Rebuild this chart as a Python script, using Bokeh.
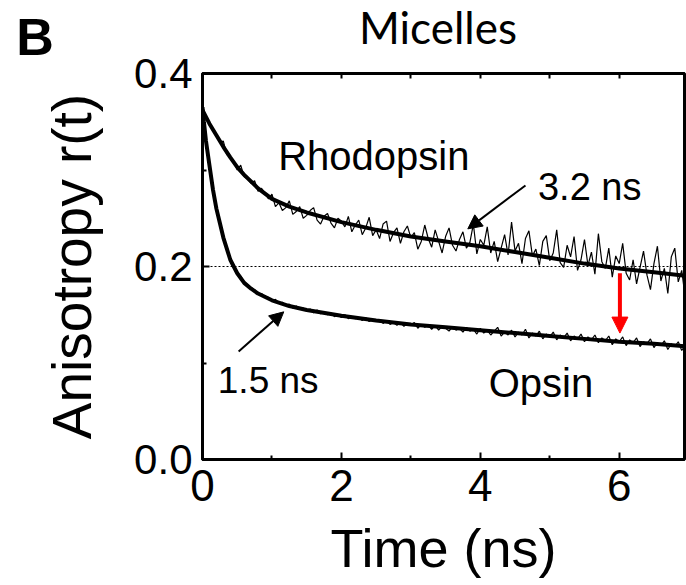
import numpy as np
from bokeh.plotting import figure
from bokeh.models import (LinearAxis, FixedTicker, Range1d, Span, Arrow,
                          NormalHead, Label, CustomJSTickFormatter)
from bokeh.embed import file_html
from bokeh.resources import INLINE

# ---------------- data ----------------
rho_data = [
    0.362, 0.354, 0.349, 0.341, 0.336, 0.329, 0.330, 0.316, 0.313, 0.309,
    0.300, 0.305, 0.293, 0.291, 0.286, 0.289, 0.278, 0.281, 0.276, 0.270,
    0.275,
    0.262, 0.266, 0.258, 0.261, 0.268, 0.254, 0.257, 0.262, 0.250, 0.253,
    0.258, 0.261, 0.248, 0.244, 0.252, 0.255, 0.245, 0.240, 0.250, 0.247,
    0.241, 0.252, 0.236, 0.243, 0.248, 0.233, 0.240, 0.251, 0.232, 0.238,
    0.229, 0.244, 0.247, 0.226, 0.235, 0.240, 0.224, 0.236, 0.242, 0.230,
    0.235, 0.218, 0.226, 0.243, 0.229, 0.220, 0.238, 0.226, 0.214, 0.231,
    0.240, 0.222, 0.216, 0.228, 0.236, 0.219, 0.225, 0.244, 0.213, 0.228,
    0.222, 0.241, 0.214, 0.226, 0.205, 0.219, 0.233, 0.212, 0.246, 0.216,
    0.224, 0.203, 0.229, 0.237, 0.211, 0.218, 0.201, 0.226, 0.232, 0.206,
    0.214, 0.238, 0.204, 0.199, 0.222, 0.210, 0.231, 0.196, 0.207, 0.228,
    0.201, 0.215, 0.192, 0.234, 0.205, 0.198, 0.219, 0.189, 0.211, 0.203,
    0.224, 0.193, 0.186, 0.207, 0.182, 0.199, 0.216, 0.191, 0.176, 0.203,
    0.221, 0.185, 0.198, 0.172, 0.210, 0.219, 0.184, 0.196, 0.168, 0.205,
]
ops_data = [
    0.365, 0.330, 0.306, 0.282, 0.262, 0.246, 0.232, 0.218, 0.208, 0.200,
    0.194, 0.190, 0.184, 0.181, 0.178, 0.176, 0.171, 0.172, 0.168, 0.168,
    0.164, 0.166, 0.162, 0.163, 0.160, 0.161, 0.157, 0.159, 0.156, 0.157,
    0.154, 0.156, 0.152, 0.155, 0.151, 0.152, 0.150, 0.152, 0.148, 0.150,
    0.147, 0.150, 0.146, 0.148, 0.146, 0.147, 0.144, 0.147, 0.143, 0.145,
    0.143, 0.145, 0.141, 0.144, 0.140, 0.142, 0.139, 0.142, 0.138, 0.141,
    0.139, 0.142, 0.136, 0.140, 0.137, 0.139, 0.135, 0.139, 0.134, 0.138,
    0.136, 0.133, 0.138, 0.134, 0.136, 0.132, 0.137, 0.133, 0.135, 0.130,
    0.136, 0.131, 0.134, 0.129, 0.133, 0.137, 0.128, 0.132, 0.129, 0.134,
    0.127, 0.132, 0.129, 0.135, 0.126, 0.131, 0.128, 0.133, 0.125, 0.130,
    0.127, 0.132, 0.124, 0.129, 0.126, 0.131, 0.123, 0.128, 0.125, 0.130,
    0.122, 0.127, 0.124, 0.129, 0.121, 0.126, 0.123, 0.128, 0.119, 0.125,
    0.122, 0.127, 0.118, 0.124, 0.121, 0.126, 0.117, 0.122, 0.120, 0.125,
    0.116, 0.121, 0.118, 0.123, 0.114, 0.120, 0.117, 0.122, 0.113, 0.118,
    0.116,
]
t_rho = np.linspace(0, 7, len(rho_data))
t_ops = np.linspace(0, 7, len(ops_data))

rho_fit_t = [0, 0.05, 0.1, 0.2, 0.3, 0.4, 0.5, 0.6, 0.8, 1.0, 1.25, 1.5, 2.0,
             2.5, 3.0, 3.5, 4.0, 4.5, 5.0, 5.5, 6.0, 6.5, 7.0]
rho_fit = [0.362, 0.355, 0.348, 0.336, 0.324, 0.313, 0.303, 0.295, 0.281,
           0.270, 0.262, 0.256, 0.246, 0.238, 0.231, 0.226, 0.221, 0.215,
           0.209, 0.203, 0.198, 0.194, 0.190]
ops_fit_t = [0, 0.02, 0.05, 0.1, 0.15, 0.2, 0.25, 0.3, 0.4, 0.5, 0.6, 0.7,
             0.8, 1.0, 1.25, 1.5, 2.0, 2.5, 3.0, 3.5, 4.0, 4.5, 5.0, 5.5,
             6.0, 6.5, 7.0]
ops_fit = [0.365, 0.350, 0.330, 0.305, 0.280, 0.260, 0.245, 0.230, 0.207,
           0.193, 0.183, 0.177, 0.172, 0.165, 0.159, 0.155, 0.149, 0.144,
           0.140, 0.137, 0.134, 0.131, 0.128, 0.125, 0.122, 0.120, 0.117]

x_ticks = [0, 2, 4, 6]
x_minor = [1, 3, 5]
top_ticks = [1, 2, 3, 4, 5, 6]
y_ticks = [0.0, 0.2, 0.4]
y_minor = [0.1, 0.3]
ref_level = 0.2

FONT = "Liberation Sans"

p = figure(width=686, height=585, output_backend="svg", toolbar_location=None,
           x_range=Range1d(0, 6.94), y_range=Range1d(0, 0.4),
           min_border_left=202, min_border_right=2, min_border_top=73,
           min_border_bottom=126, title=None)
p.xgrid.visible = False
p.ygrid.visible = False
p.outline_line_color = "black"
p.outline_line_width = 3
p.background_fill_color = "white"
p.border_fill_color = "white"


def style_axis(ax, ticks, minor, size="42px"):
    ax.ticker = FixedTicker(ticks=ticks, minor_ticks=minor)
    ax.axis_line_width = 3
    ax.axis_line_color = "black"
    ax.major_tick_in = 7
    ax.major_tick_out = 0
    ax.minor_tick_in = 4
    ax.minor_tick_out = 0
    ax.major_tick_line_width = 2
    ax.minor_tick_line_width = 2
    ax.major_label_text_font = FONT
    ax.major_label_text_font_size = size
    ax.major_label_text_color = "black"


xa = p.xaxis[0]
style_axis(xa, x_ticks, x_minor, size="44px")
xa.major_label_standoff = 10
xa.axis_label = "Time (ns)"
xa.axis_label_text_font = FONT
xa.axis_label_text_font_size = "54px"
xa.axis_label_text_font_style = "normal"
xa.axis_label_text_color = "black"
xa.axis_label_standoff = 14

ya = p.yaxis[0]
style_axis(ya, y_ticks, y_minor, size="42px")
ya.major_label_standoff = 10
ya.formatter = CustomJSTickFormatter(code="return tick.toFixed(1);")
ya.axis_label = "Anisotropy r(t)"
ya.axis_label_text_font = FONT
ya.axis_label_text_font_size = "55px"
ya.axis_label_text_font_style = "normal"
ya.axis_label_text_color = "black"
ya.axis_label_standoff = 28

# top frame ticks (no labels): only minor-style ticks
top = LinearAxis(ticker=FixedTicker(ticks=[], minor_ticks=top_ticks),
                 axis_line_width=3, axis_line_color="black",
                 minor_tick_in=5, minor_tick_out=0, minor_tick_line_width=2,
                 major_tick_in=0, major_tick_out=0)
p.add_layout(top, "above")

# title, placed in the top side panel so that it is not clipped to the frame
p.add_layout(Label(x=3.39, y=0.448, text="Micelles", text_align="center",
                   text_font="Lato", text_font_size="44px",
                   text_color="black", text_baseline="alphabetic"), "above")

# reference dotted line
p.add_layout(Span(location=ref_level, dimension="width", line_color="black",
                  line_width=1, line_dash="2 2"))

# data traces and fits
p.line(t_rho, rho_data, line_color="black", line_width=1.2)
p.line(t_ops, ops_data, line_color="black", line_width=1.2)
p.line(rho_fit_t, rho_fit, line_color="black", line_width=4)
p.line(ops_fit_t, ops_fit, line_color="black", line_width=4)

# arrows
p.add_layout(Arrow(end=NormalHead(size=14, fill_color="black", line_color="black"),
                   x_start=4.65, y_start=0.284, x_end=3.82, y_end=0.239,
                   line_width=2, line_color="black"))
p.add_layout(Arrow(end=NormalHead(size=14, fill_color="black", line_color="black"),
                   x_start=0.52, y_start=0.112, x_end=1.17, y_end=0.153,
                   line_width=2, line_color="black"))
p.add_layout(Arrow(end=NormalHead(size=16, fill_color="red", line_color="red"),
                   x_start=6.01, y_start=0.193, x_end=6.01, y_end=0.131,
                   line_width=4, line_color="red"))


# text annotations
def lab(x, y, text, size="38px"):
    p.add_layout(Label(x=x, y=y, text=text, text_font=FONT, text_font_size=size,
                       text_color="black", text_baseline="alphabetic"))


lab(1.09, 0.3145, "Rhodopsin", size="40px")
lab(4.83, 0.2825, "3.2 ns")
lab(0.22, 0.0815, "1.5 ns", size="37px")
lab(4.12, 0.0795, "Opsin", size="40px")

# panel letter, placed in a side panel so that it is not clipped to the frame
p.add_layout(Label(x=-2.68, y=0.438, text="B", text_font=FONT,
                   text_font_size="52px", text_font_style="bold",
                   text_color="black", text_baseline="alphabetic"), "left")

open("out.html", "w").write(file_html(p, INLINE))
